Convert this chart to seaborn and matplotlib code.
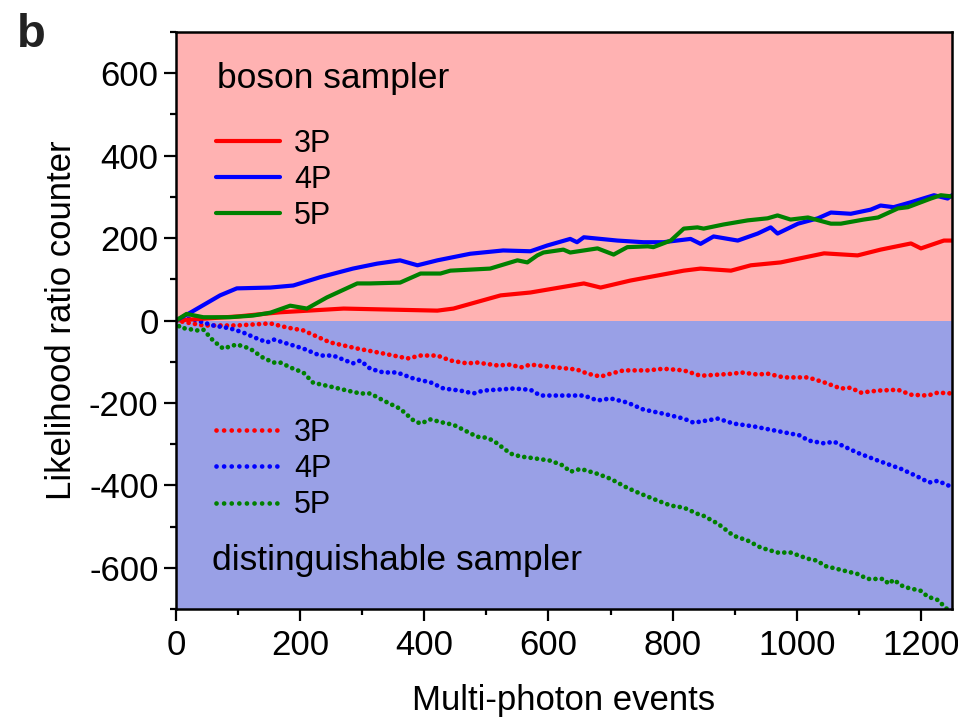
import numpy as np
import pandas as pd
import matplotlib
matplotlib.use("Agg")
import matplotlib.pyplot as plt
from matplotlib.lines import Line2D
import seaborn as sns

# ---------------- data ----------------
bos3_x = [0, 50, 100, 168, 270, 421, 447, 523, 571, 657, 684, 732, 818, 845, 894, 926, 974, 1044, 1098, 1135, 1184, 1200, 1237, 1250]
bos3_y = [0, 5, 10, 20, 29, 24, 29, 61, 68, 90, 80, 97, 121, 126, 121, 134, 141, 163, 158, 172, 187, 175, 194, 194]

bos4_x = [0, 23, 71, 98, 152, 189, 232, 285, 324, 361, 389, 421, 474, 527, 571, 598, 635, 646, 657, 711, 753, 785, 829, 845, 866, 905, 937, 958, 969, 1002, 1034, 1055, 1087, 1119, 1135, 1156, 1184, 1221, 1243, 1250]
bos4_y = [0, 19, 61, 78, 80, 85, 105, 126, 138, 146, 134, 146, 162, 170, 168, 182, 198, 190, 202, 194, 190, 190, 198, 186, 204, 194, 211, 226, 211, 235, 248, 262, 259, 269, 279, 275, 287, 304, 296, 304]

bos5_x = [0, 17, 44, 87, 124, 152, 184, 211, 243, 292, 313, 361, 394, 426, 442, 506, 550, 566, 582, 592, 624, 635, 679, 705, 727, 760, 769, 797, 818, 840, 850, 882, 921, 953, 969, 990, 1018, 1055, 1071, 1108, 1131, 1163, 1179, 1216, 1232, 1250]
bos5_y = [0, 16, 8, 8, 12, 19, 36, 29, 56, 90, 90, 92, 114, 114, 121, 126, 146, 141, 158, 165, 172, 165, 175, 160, 178, 180, 178, 194, 223, 226, 223, 233, 243, 248, 255, 245, 250, 235, 235, 245, 250, 272, 275, 296, 304, 301]

dis3_x = [0, 44, 98, 152, 179, 205, 248, 292, 334, 373, 394, 421, 442, 469, 485, 518, 539, 555, 571, 614, 646, 663, 684, 700, 721, 760, 785, 818, 845, 898, 910, 937, 953, 979, 1018, 1044, 1071, 1087, 1103, 1131, 1163, 1184, 1211, 1227, 1250]
dis3_y = [0, -12, -12, -7, -17, -24, -53, -68, -80, -92, -85, -85, -97, -104, -102, -109, -107, -114, -107, -114, -119, -129, -136, -129, -121, -121, -117, -121, -134, -129, -126, -131, -129, -138, -138, -150, -165, -163, -175, -170, -168, -180, -182, -175, -177]

dis4_x = [0, 23, 60, 87, 108, 131, 147, 157, 179, 205, 232, 253, 285, 297, 313, 334, 356, 383, 410, 431, 458, 479, 495, 544, 571, 587, 624, 657, 679, 700, 727, 753, 785, 818, 834, 873, 898, 931, 958, 1006, 1018, 1044, 1060, 1098, 1131, 1168, 1195, 1213, 1227, 1250]
dis4_y = [0, 5, -12, -19, -29, -44, -53, -46, -56, -68, -85, -85, -104, -97, -117, -126, -126, -141, -150, -165, -170, -177, -170, -165, -168, -182, -182, -182, -194, -189, -199, -216, -226, -238, -248, -238, -250, -257, -265, -279, -291, -298, -294, -321, -340, -360, -379, -393, -389, -404]

dis5_x = [0, 6, 34, 44, 60, 76, 98, 119, 140, 157, 168, 189, 205, 221, 248, 276, 297, 313, 334, 361, 383, 394, 410, 431, 447, 463, 485, 498, 511, 539, 555, 571, 603, 624, 635, 652, 679, 700, 727, 748, 776, 797, 818, 840, 850, 873, 898, 921, 942, 969, 990, 1018, 1034, 1044, 1071, 1098, 1114, 1140, 1148, 1156, 1172, 1200, 1211, 1227, 1242]
dis5_y = [0, -17, -24, -22, -49, -68, -58, -68, -90, -102, -102, -117, -126, -151, -160, -170, -177, -177, -194, -214, -243, -250, -240, -248, -253, -265, -282, -284, -291, -323, -330, -333, -340, -352, -367, -360, -372, -384, -406, -420, -437, -449, -454, -469, -474, -493, -522, -534, -551, -563, -563, -578, -583, -595, -605, -615, -627, -627, -639, -629, -646, -656, -670, -678, -700]

labels = ["3P", "4P", "5P"]
colors = ["#ff0000", "#0000ff", "#008000"]
x_ticks = [0, 200, 400, 600, 800, 1000, 1200]
y_ticks = [-600, -400, -200, 0, 200, 400, 600]

# ---------------- style ----------------
sns.set_theme(style="ticks")
plt.rcParams["font.family"] = ["Liberation Sans", "DejaVu Sans"]
plt.rcParams["text.color"] = "black"
plt.rcParams["axes.labelcolor"] = "black"

fig = plt.figure(figsize=(9.58, 7.21), dpi=100)
ax = fig.add_axes([0.1837, 0.1553, 0.81, 0.8003])

pink = "#ffb2b2"
blue_bg = "#99a0e6"
ax.axhspan(0, 700, color=pink, lw=0, zorder=0)
ax.axhspan(-700, 0, color=blue_bg, lw=0, zorder=0)

boson = [(bos3_x, bos3_y), (bos4_x, bos4_y), (bos5_x, bos5_y)]
dist = [(dis3_x, dis3_y), (dis4_x, dis4_y), (dis5_x, dis5_y)]

dot_style = (0, (0.01, 1.35))
for (xs, ys), c in zip(dist, colors):
    df = pd.DataFrame({"x": xs, "y": ys})
    sns.lineplot(data=df, x="x", y="y", ax=ax, color=c, sort=False,
                 estimator=None, linewidth=3.4, linestyle=dot_style,
                 dash_capstyle="round", zorder=3, legend=False)
for (xs, ys), c in zip(boson, colors):
    df = pd.DataFrame({"x": xs, "y": ys})
    sns.lineplot(data=df, x="x", y="y", ax=ax, color=c, sort=False,
                 estimator=None, linewidth=3.0, zorder=4, legend=False)

ax.set_xlim(0, 1250)
ax.set_ylim(-700, 700)
ax.set_xticks(x_ticks)
ax.set_yticks(y_ticks)
ax.set_xticks(np.arange(100, 1250, 200), minor=True)
ax.set_yticks(np.arange(-700, 701, 200), minor=True)
ax.set_xticklabels([str(v) for v in x_ticks])
ax.set_yticklabels([str(v) for v in y_ticks])
ax.tick_params(axis="both", which="major", direction="out", length=8.5,
               width=1.6, labelsize=25, pad=4, colors="black")
ax.tick_params(axis="x", which="major", pad=6)
ax.tick_params(axis="both", which="minor", direction="out", length=4.5,
               width=1.6, colors="black")
ax.tick_params(top=False, right=False, which="both")
for s in ax.spines.values():
    s.set_visible(True)
    s.set_linewidth(1.8)
    s.set_color("black")
    s.set_zorder(6)

ax.set_xlabel("Multi-photon events", fontsize=25, labelpad=16)
ax.set_ylabel("Likelihood ratio counter", fontsize=25, labelpad=8)

ax.text(0.0528, 0.903, "boson sampler", transform=ax.transAxes,
        fontsize=25.5, va="baseline", ha="left", zorder=7)
ax.text(0.0465, 0.0676, "distinguishable sampler", transform=ax.transAxes,
        fontsize=25.5, va="baseline", ha="left", zorder=7)

h_solid = [Line2D([], [], color=c, lw=3.0) for c in colors]
h_dot = [Line2D([], [], color=c, lw=3.4, linestyle=(0, (0.01, 1.6)),
                dash_capstyle="round") for c in colors]
leg1 = ax.legend(h_solid, labels, loc="upper left", bbox_to_anchor=(0.0515, 0.832),
                 frameon=False, fontsize=22, handlelength=2.1, handletextpad=0.45,
                 labelspacing=0.2, borderpad=0, borderaxespad=0)
leg1.set_zorder(8)
ax.add_artist(leg1)
leg2 = ax.legend(h_dot, labels, loc="upper left", bbox_to_anchor=(0.0515, 0.331),
                 frameon=False, fontsize=22, handlelength=2.1, handletextpad=0.45,
                 labelspacing=0.2, borderpad=0, borderaxespad=0)
leg2.set_zorder(8)

fig.text(0.018, 0.935, "b", fontsize=34, fontweight="bold", color="#222222",
         ha="left", va="baseline")

fig.savefig("out.png", dpi=100)
